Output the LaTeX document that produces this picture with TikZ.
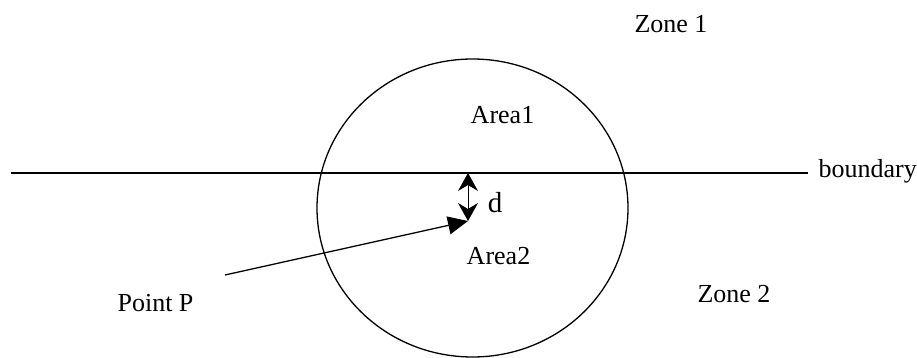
\documentclass[tikz,border=0pt]{standalone}
\usepackage{fontspec}
\setmainfont{Liberation Serif}
\usetikzlibrary{arrows.meta, positioning}
\tikzset{
    zonetext/.style={font=\fontsize{13}{15}\selectfont, anchor=base, inner sep=0pt},
    disttext/.style={font=\fontsize{14.5}{17}\selectfont, anchor=base, inner sep=0pt},
    distarrow/.style={{Stealth[length=9pt, width=10pt, inset=3pt]}-{Stealth[length=9pt, width=10pt, inset=3pt]}, line width=0.5pt},
    pointarrow/.style={-{Triangle[length=10pt, width=9pt]}, line width=0.65pt},
}

\begin{document}
\begin{tikzpicture}[x=0.5pt, y=-0.5pt, line width=0.65pt]
\useasboundingbox (0,0) rectangle (917,358);
% circle round the point
\draw (472.5,208) ellipse [x radius=77.75pt, y radius=74.5pt];
% boundary line
\coordinate (bleft) at (11,173);
\node[zonetext, anchor=base west] (bnd) at (818,177) {boundary};
\draw (bleft) -- ([xshift=-5pt]bnd.west |- bleft);
% distance d
\coordinate (btop) at (468,173);
\coordinate (ptP) at (468,221);
\draw[distarrow] (btop) -- (ptP);
\node[disttext] (dist) at (495,213) {d};
% point P
\coordinate (pstart) at (225,275);
\draw[pointarrow] (pstart) -- (ptP);
\node[zonetext] (pointP) at (155.5,312) {Point P};
% labels
\node[zonetext] (zone1) at (671,33) {Zone 1};
\node[zonetext] (zone2) at (734,302) {Zone 2};
\node[zonetext] (area1) at (502.5,124) {Area1};
\node[zonetext] (area2) at (498.5,264) {Area2};
\end{tikzpicture}
\end{document}
